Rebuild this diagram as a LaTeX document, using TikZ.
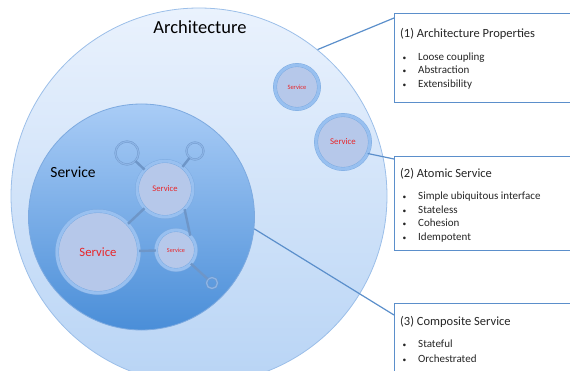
\documentclass[tikz,border=0pt]{standalone}
\usepackage{fontspec}
\setmainfont{Carlito}
\usepackage{tikz}

\definecolor{archtop}{HTML}{EAF2FD}
\definecolor{archbot}{HTML}{B8D4F5}
\definecolor{archedge}{HTML}{9CBFE9}
\definecolor{comptop}{HTML}{A9CCF6}
\definecolor{compbot}{HTML}{4A8ED8}
\definecolor{compedge}{HTML}{7DAAE0}
\definecolor{svcfill}{HTML}{B6C8EA}
\definecolor{svcring}{HTML}{98C0F0}
\definecolor{svcedge}{HTML}{7AA9E0}
\definecolor{portring}{HTML}{8CB4E6}
\definecolor{portedge}{HTML}{6F98CA}
\definecolor{svcred}{HTML}{E8262A}
\definecolor{linkblue}{HTML}{6E96C8}
\definecolor{boxblue}{HTML}{5B8FCB}
\definecolor{boxtext}{HTML}{262626}

\tikzset{
  svc/.style={circle, inner sep=0pt, fill=svcfill, draw=svcedge, line width=.4pt,
              double=svcring, double distance=3pt, text=svcred},
  port/.style={circle, inner sep=0pt, draw=portedge, line width=.4pt,
               double=portring, double distance=1.3pt},
  link/.style={draw=linkblue, line width=2.4pt},
  infobox/.style={rectangle, draw=boxblue, line width=1.3pt, fill=white, anchor=north west},
  callout/.style={draw=boxblue, line width=1.2pt},
  boxtitle/.style={anchor=base west, inner sep=0pt, text=boxtext, font=\fontsize{12.5}{15}\selectfont},
  boxitem/.style={anchor=base west, inner sep=0pt, text=boxtext, font=\fontsize{11}{13}\selectfont},
  dot/.style={anchor=base west, inner sep=0pt, text=boxtext, font=\fontsize{7.5}{9}\selectfont}
}

\begin{document}
\begin{tikzpicture}[x=1pt, y=-1pt]
          \useasboundingbox (0,0) rectangle (570,371);
          \clip (0,0) rectangle (570,371);
          % architecture and composite service
          \node[circle, minimum size=376pt, top color=archtop, bottom color=archbot,
                draw=archedge, line width=.8pt] (arch) at (199,196) {};
          \node[circle, minimum size=226pt, top color=comptop, bottom color=compbot,
                draw=compedge, line width=.8pt] (comp) at (141.5,217) {};
          \node[font=\fontsize{18.5}{22}\selectfont] (archlabel) at (200,27) {Architecture};
          \node[font=\fontsize{15.5}{18}\selectfont] (complabel) at (73,172) {Service};

          % services
          \node[svc, minimum size=44pt, font=\fontsize{6.5}{8}\selectfont] (svcA) at (297,87) {Service};
          \node[svc, minimum size=54pt, font=\fontsize{8.8}{10}\selectfont] (svcB) at (343,142) {Service};
          \node[svc, minimum size=56pt, font=\fontsize{8.6}{10}\selectfont] (svcmid) at (165,189) {Service};
          \node[svc, minimum size=82pt, font=\fontsize{12.7}{15}\selectfont] (svcbig) at (98,252) {Service};
          \node[svc, minimum size=40pt, font=\fontsize{6.2}{8}\selectfont] (svcsml) at (176,250) {Service};
          \node[port, minimum size=23pt] (port1) at (127,153) {};
          \node[port, minimum size=17pt] (port2) at (195,151) {};
          \node[port, minimum size=11pt] (port3) at (212,283) {};

          \draw[link] (port1) -- (svcmid);
          \draw[link] (port2) -- (svcmid);
          \draw[link] (svcmid) -- (svcbig);
          \draw[link] (svcmid.-46) -- (svcsml.45);
          \draw[link] (svcsml) -- (svcbig);
          \draw[link] (svcsml) -- (port3);

          % property boxes
          \node[infobox, minimum width=220pt, minimum height=89pt] (props) at (394,13) {};
          \node[infobox, minimum width=220pt, minimum height=94pt] (atomic) at (394,156) {};
          \node[infobox, minimum width=220pt, minimum height=100pt] (composite) at (394,303) {};

          \draw[callout] (arch.51) -- ([yshift=-5pt]props.north west);
          \draw[callout] (svcB.-25) -- ([yshift=-3pt]atomic.north west);
          \draw[callout] (comp.-6.6) -- ([yshift=-12pt]composite.north west);

          \node[boxtitle] (propstitle) at (400,37.5) {(1) Architecture Properties};
          \foreach \txt [count=\i] in {Loose coupling, Abstraction, Extensibility} {
            \node[dot] (propsdot\i) at (402.5,47+13.4*\i) {\textbullet};
            \node[boxitem] (propsitem\i) at (418,47+13.4*\i) {\txt};
          }
          \node[boxtitle] (atomictitle) at (400,177.5) {(2) Atomic Service};
          \foreach \txt [count=\i] in {Simple ubiquitous interface, Stateless, Cohesion, Idempotent} {
            \node[dot] (atomicdot\i) at (402.5,186+13.6*\i) {\textbullet};
            \node[boxitem] (atomicitem\i) at (418,186+13.6*\i) {\txt};
          }
          \node[boxtitle] (compositetitle) at (400,325.5) {(3) Composite Service};
          \foreach \txt [count=\i] in {Stateful, Orchestrated} {
            \node[dot] (compositedot\i) at (402.5,333+14.5*\i) {\textbullet};
            \node[boxitem] (compositeitem\i) at (418,333+14.5*\i) {\txt};
          }
        \end{tikzpicture}
\end{document}
